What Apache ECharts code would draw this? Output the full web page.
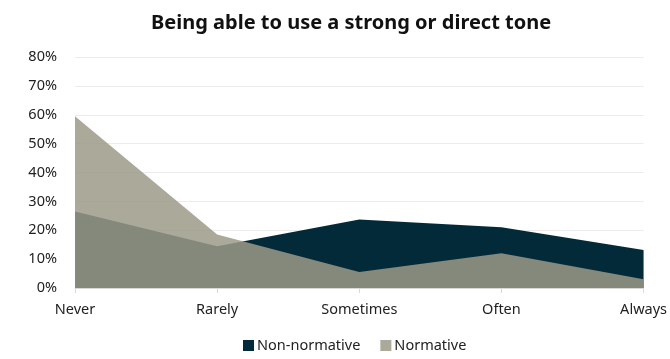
<!DOCTYPE html>
<html>
<head>
<meta charset="utf-8">
<script src="https://cdn.jsdelivr.net/npm/echarts@6/dist/echarts.min.js"></script>
<style>
  html, body { margin: 0; padding: 0; background: #ffffff; }
  #chart { width: 670px; height: 359px; }
</style>
</head>
<body>
<div id="chart"></div>
<script>
// Frequency categories along the x axis
const categories = ['Never', 'Rarely', 'Sometimes', 'Often', 'Always'];
// Share of respondents (%) per group
const nonNormative = [26.5, 14.5, 23.7, 21.0, 13.2];
const normative = [59.5, 18.5, 5.5, 12.0, 3.0];
// Y axis range (%)
const yMin = 0;
const yMax = 80;
const yStep = 10;

const chart = echarts.init(document.getElementById('chart'), null, { renderer: 'canvas' });

const fontFamily = '"Noto Sans", Lato, sans-serif';

chart.setOption({
  animation: false,
  backgroundColor: '#ffffff',
  title: {
    text: 'Being able to use a strong or direct tone',
    left: 146,
    top: 8,
    textStyle: { fontFamily: fontFamily, fontWeight: 'bold', fontSize: 20, color: '#111111' }
  },
  legend: {
    bottom: 1,
    left: 238,
    itemWidth: 11,
    itemHeight: 11,
    itemGap: 20,
    icon: 'rect',
    textStyle: { fontFamily: fontFamily, fontSize: 14.5, color: '#222222', padding: [0, 0, 0, -2] },
    data: ['Non-normative', 'Normative']
  },
  grid: { left: 75, right: 25, top: 57, bottom: 71, containLabel: false },
  xAxis: {
    type: 'category',
    boundaryGap: false,
    data: categories,
    axisLine: { show: true, lineStyle: { color: '#d9d9d9', width: 1 } },
    axisTick: { show: true, alignWithLabel: true, length: 5, lineStyle: { color: '#d9d9d9' } },
    axisLabel: { fontFamily: fontFamily, fontSize: 14.5, color: '#222222', margin: 14 },
    splitLine: { show: false }
  },
  yAxis: {
    type: 'value',
    min: yMin,
    max: yMax,
    interval: yStep,
    axisLine: { show: false },
    axisTick: { show: false },
    axisLabel: {
      fontFamily: fontFamily, fontSize: 14.5, color: '#222222', margin: 18,
      formatter: v => v + '%'
    },
    splitLine: { show: true, lineStyle: { color: '#ececec', width: 1 } }
  },
  series: [
    {
      name: 'Non-normative',
      type: 'line',
      data: nonNormative,
      showSymbol: false,
      symbol: 'none',
      lineStyle: { width: 0 },
      itemStyle: { color: '#032a38' },
      areaStyle: { color: '#032a38', opacity: 1 },
      z: 2
    },
    {
      name: 'Normative',
      type: 'line',
      data: normative,
      showSymbol: false,
      symbol: 'none',
      lineStyle: { width: 0 },
      itemStyle: { color: '#aaa99a' },
      areaStyle: { color: 'rgb(155,154,136)', opacity: 0.85 },
      z: 3
    }
  ]
});
</script>
</body>
</html>
